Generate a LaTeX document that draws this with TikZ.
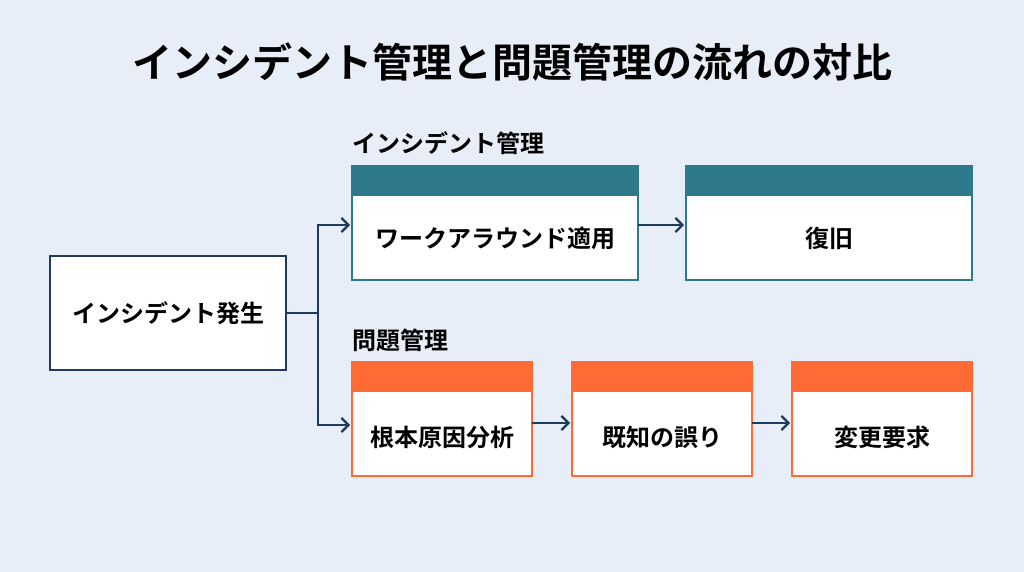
\documentclass[tikz,border=0pt]{standalone}
\usepackage{fontspec}
\setmainfont{Noto Sans CJK JP}[BoldFont={* Bold}]
\usetikzlibrary{arrows.meta}
\definecolor{bg}{HTML}{E8EEF7}
\definecolor{navy}{HTML}{1F3A5F}
\definecolor{teal}{HTML}{2E7A8C}
\definecolor{orng}{HTML}{FF6B35}
\tikzset{
 body/.style={draw=#1,line width=2pt,fill=white},
 lbl/.style={font=\bfseries\fontsize{24}{28}\selectfont,text=black},
 conn/.style={draw=navy,line width=2.2pt,-{Straight Barb[length=7pt,width=14pt]}},
}
\begin{document}
\begin{tikzpicture}[x=1pt,y=-1pt]
\fill[bg] (0,0) rectangle (1024,572);
\useasboundingbox (0,0) rectangle (1024,572);
\node[font=\bfseries\fontsize{40}{46}\selectfont] (title) at (512,62) {インシデント管理と問題管理の流れの対比};
\node[lbl,anchor=west,inner sep=0] (l1) at (352,143) {インシデント管理};
\node[lbl,anchor=west,inner sep=0] (l2) at (352,340) {問題管理};
% left
\draw[body=navy] (50,256) rectangle (286,370);
\node[lbl] (a) at (168,313) {インシデント発生};
% teal boxes
\foreach \x/\w/\n/\t in {352/286/b/ワークアラウンド適用,686/286/c/復旧}{
 \draw[body=teal] (\x,166) rectangle (\x+\w,280);
 \fill[teal] (\x,166) rectangle (\x+\w,196);
 \node[lbl] (\n) at (\x+\w/2,238) {\t};
}
\foreach \x/\n/\t in {352/d/根本原因分析,572/e/既知の誤り,792/f/変更要求}{
 \draw[body=orng] (\x,362) rectangle (\x+180,476);
 \fill[orng] (\x,362) rectangle (\x+180,392);
 \node[lbl] (\n) at (\x+90,437) {\t};
}
\coordinate (j) at (318,313);
\coordinate (bi) at (350,225);
\coordinate (di) at (350,425);
\draw[navy,line width=2.2pt] (286,313) -- (j);
\draw[conn] (j) |- (bi);
\draw[conn] (j) |- (di);
\draw[conn] (638,225) -- (684,225);
\draw[conn] (532,423) -- (570,423);
\draw[conn] (752,423) -- (790,423);
\end{tikzpicture}
\end{document}
